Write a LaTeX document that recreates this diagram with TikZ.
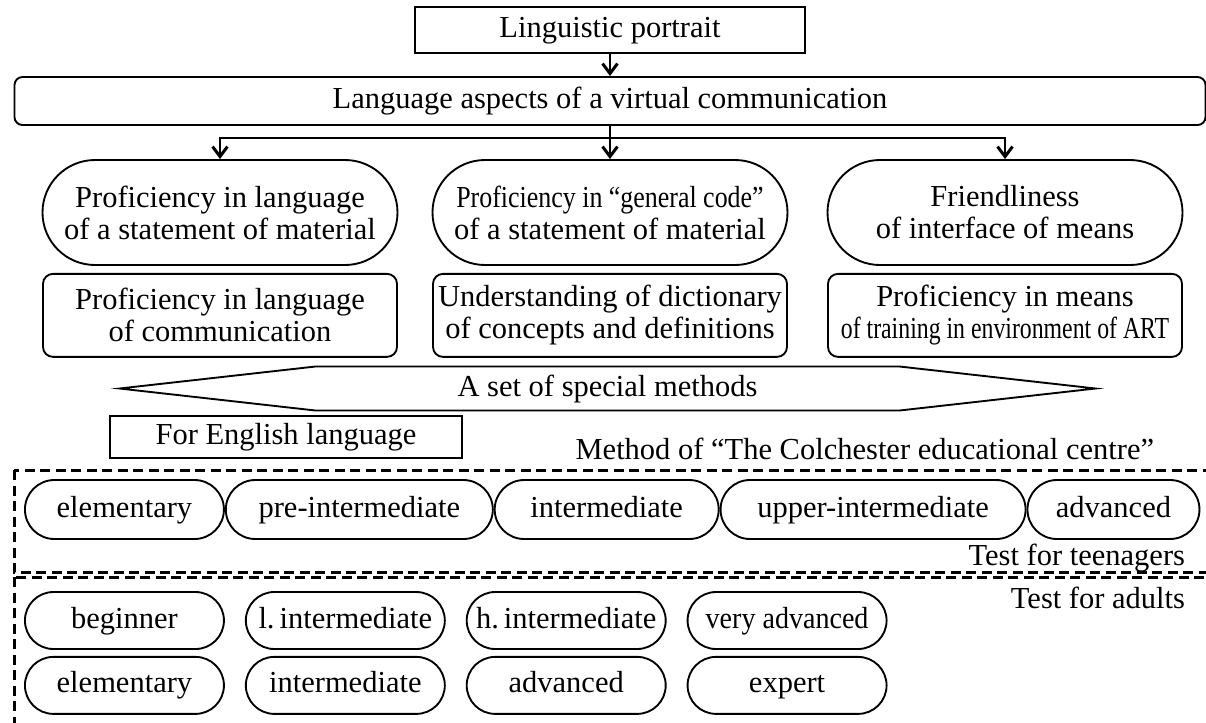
\documentclass[tikz,border=0pt]{standalone}
\usepackage{fontspec}
\setmainfont{Liberation Serif}
\usepackage{graphicx}
\usetikzlibrary{positioning,arrows.meta}

\begin{document}
\begin{tikzpicture}[x=0.4pt, y=-0.4pt,
      font=\fontsize{12.2}{12.8}\selectfont,
      every node/.style={inner sep=1pt},
      oneline/.style={text height=8.6pt, text depth=2.6pt},
      plain/.style={draw, line width=0.75pt, align=center, minimum height=18.4pt, oneline},
      block/.style={draw, line width=0.75pt, rounded corners=4pt, align=center,
                    minimum width=141.6pt, minimum height=33.2pt},
      oval/.style={draw, line width=0.75pt, rounded corners=21pt, align=center,
                   minimum width=142pt, minimum height=42pt},
      level/.style={draw, line width=0.75pt, rounded corners=11.4pt, oneline,
                    minimum height=22.8pt, minimum width=79.6pt},
      teen/.style={minimum height=23.6pt, rounded corners=11.8pt},
      frame/.style={line width=1.2pt, dash pattern=on 4pt off 2.2pt},
      arrow/.style={-{Straight Barb[length=4pt,width=6pt,line width=1.2pt]}, line width=1pt}]
    \useasboundingbox (0,0) rectangle (1206,722);
    \clip (0,0) rectangle (1206,722);

    % top of the scheme
    \node[plain, minimum width=156pt] (portrait) at (610,30) {Linguistic portrait};
    \node[plain, rounded corners=3.2pt, minimum width=476.4pt, minimum height=19.2pt]
      (aspects) at (610,101) {Language aspects of a virtual communication};

    \node[oval] (langstat) at (220,212.5) {Proficiency in language\\of a statement of material};
    \node[oval] (codestat) at (610,212.5) {\scalebox{0.85}[1]{Proficiency in “general code”}\\of a statement of material};
    \node[oval] (interface) at (1005,212.5) {Friendliness\\of interface of means};

    \node[block, below=2.8pt of langstat] (langcomm) {Proficiency in language\\of communication};
    \node[block, below=2.8pt of codestat] (dictionary) {Understanding of dictionary\\of concepts and definitions};
    \node[block, below=2.8pt of interface] (training) {Proficiency in means\\\scalebox{0.78}[1]{of training in environment of ART}};

    \coordinate (split) at (610,138);
    \draw[arrow] (portrait) -- (aspects);
    \draw[arrow] (aspects) -- (codestat);
    \draw[arrow] (split) -| (langstat.north);
    \draw[arrow] (split) -| (interface.north);

    % methods
    \node[minimum width=390pt, minimum height=17.2pt, oneline] (methods) at (607.5,388.5) {A set of special methods};
    \draw[line width=0.75pt] (methods.west) -- ([xshift=78.4pt]methods.north west)
      -- ([xshift=-78.4pt]methods.north east) -- (methods.east)
      -- ([xshift=-78.4pt]methods.south east) -- ([xshift=78.4pt]methods.south west) -- cycle;

    \node[plain, minimum width=140.8pt, minimum height=16.8pt] (english) at (286,437) {For English language};
    \node[anchor=base east] (colchester) at (1157,459) {Method of “The Colchester educational centre”};

    % tests
    \draw[frame] (14,470) rectangle (1240,572);
    \draw[frame] (14,577) rectangle (1240,760);

    \node[level, teen, anchor=west] (t1) at (24,509.5) {elementary};
    \node[level, teen, minimum width=106.8pt, right=0pt of t1] (t2) {pre-intermediate};
    \node[level, teen, minimum width=89.6pt, right=0pt of t2] (t3) {intermediate};
    \node[level, teen, minimum width=122pt, right=0pt of t3] (t4) {upper-intermediate};
    \node[level, teen, minimum width=68.8pt, right=0pt of t4] (t5) {advanced};
    \node[anchor=base east] (teenlabel) at (1188,565) {Test for teenagers};

    \node[anchor=base east] (adultlabel) at (1188,608) {Test for adults};
    \node[level, anchor=west] (a1) at (24,620.5) {beginner};
    \node[level, right=8pt of a1] (a2) {l.\,intermediate};
    \node[level, right=8pt of a2] (a3) {h.\,intermediate};
    \node[level, right=8pt of a3] (a4) {\scalebox{0.92}[1]{very advanced}};
    \node[level, below=2.4pt of a1] (b1) {elementary};
    \node[level, below=2.4pt of a2] (b2) {intermediate};
    \node[level, below=2.4pt of a3] (b3) {advanced};
    \node[level, below=2.4pt of a4] (b4) {expert};
  \end{tikzpicture}
\end{document}
